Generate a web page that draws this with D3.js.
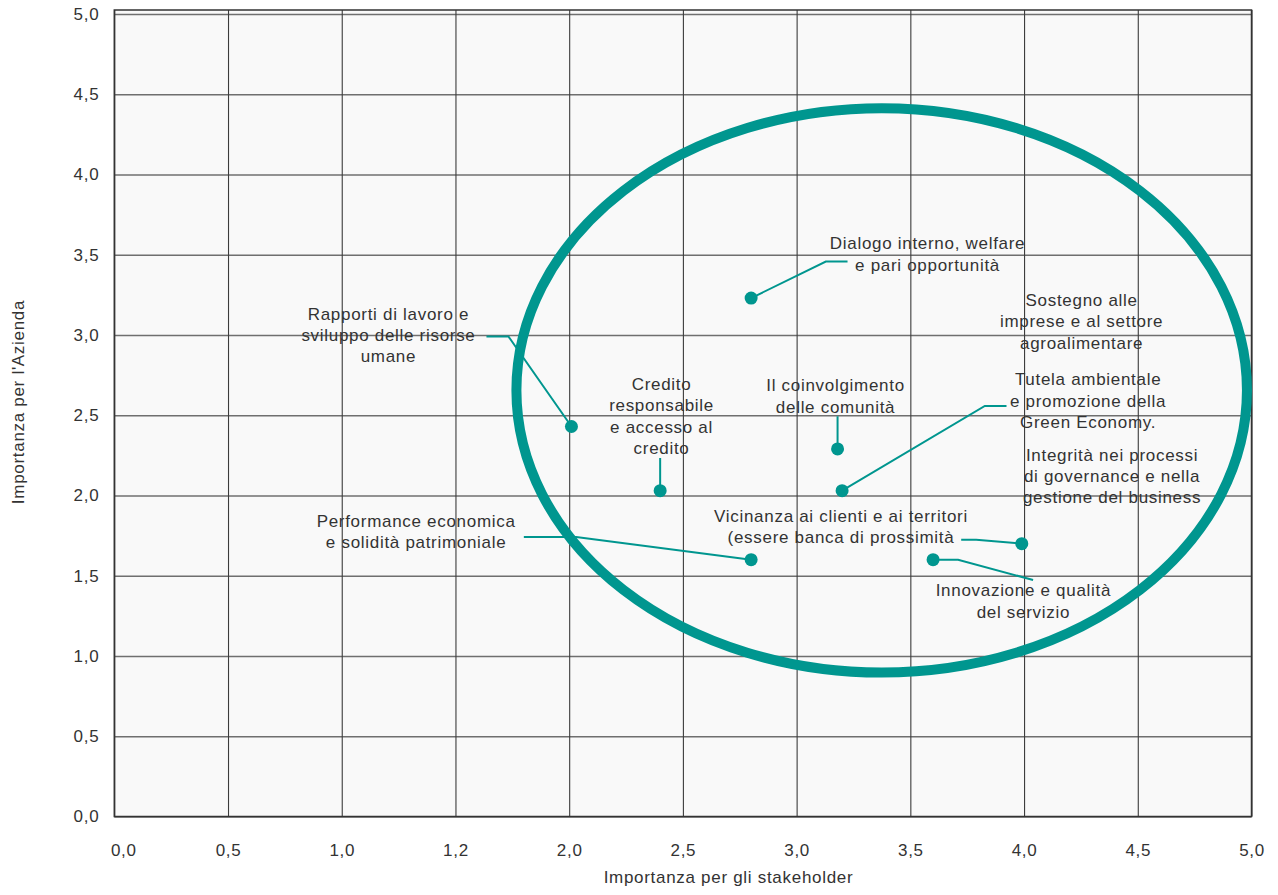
<!DOCTYPE html>
<html lang="it">
<head>
<meta charset="utf-8">
<title>Matrice di materialità</title>
<script src="https://cdn.jsdelivr.net/npm/d3@7"></script>
<style>
  html, body { margin: 0; padding: 0; background: #ffffff; }
  svg { display: block; }
  text { font-family: "Liberation Sans", Arial, Helvetica, sans-serif; fill: #333333; }
</style>
</head>
<body>
<svg id="chart" width="1278" height="895"></svg>
<script>
// Temi materiali: nome, importanza per gli stakeholder (x), importanza per l'azienda (y)
const topics = [
  "Dialogo interno, welfare e pari opportunità",
  "Rapporti di lavoro e sviluppo delle risorse umane",
  "Credito responsabile e accesso al credito",
  "Il coinvolgimento delle comunità",
  "Tutela ambientale e promozione della Green Economy.",
  "Performance economica e solidità patrimoniale",
  "Vicinanza ai clienti e ai territori (essere banca di prossimità",
  "Innovazione e qualità del servizio"
];
const stakeholderScores = [2.8, 2.01, 2.4, 3.18, 3.2, 2.8, 3.99, 3.6];
const companyScores     = [3.23, 2.43, 2.03, 2.29, 2.03, 1.6, 1.7, 1.6];

// Righe di testo delle etichette
const topicLines = [
  ["Dialogo interno, welfare", "e pari opportunità"],
  ["Rapporti di lavoro e", "sviluppo delle risorse", "umane"],
  ["Credito", "responsabile", "e accesso al", "credito"],
  ["Il coinvolgimento", "delle comunità"],
  ["Tutela ambientale", "e promozione della", "Green Economy."],
  ["Performance economica", "e solidità patrimoniale"],
  ["Vicinanza ai clienti e ai territori", "(essere banca di prossimità"],
  ["Innovazione e qualità", "del servizio"]
];

// Etichette senza punto associato, posizionate nello spazio dei dati
const freeLabels = [
  { lines: ["Sostegno alle", "imprese e al settore", "agroalimentare"], x: 4.253, y: 3.214 },
  { lines: ["Integrità nei processi", "di governance e nella", "gestione del business"], x: 4.387, y: 2.25 }
];

// Assi
const xTickValues = [0, 0.5, 1, 1.5, 2, 2.5, 3, 3.5, 4, 4.5, 5];
const xTickLabels = ["0,0", "0,5", "1,0", "1,2", "2,0", "2,5", "3,0", "3,5", "4,0", "4,5", "5,0"];
const yTickValues = [0, 0.5, 1, 1.5, 2, 2.5, 3, 3.5, 4, 4.5, 5];
const yTickLabels = ["0,0", "0,5", "1,0", "1,5", "2,0", "2,5", "3,0", "3,5", "4,0", "4,5", "5,0"];
const xTitle = "Importanza per gli stakeholder";
const yTitle = "Importanza per l'Azienda";

// Area di rilevanza (ellisse) in unità dei dati
const focusArea = { cx: 3.374, cy: 2.655, rx: 1.606, ry: 1.758 };

// ---- layout ----
const TEAL = "#00968f";
const plot = { left: 114.3, right: 1251.5, top: 14, bottom: 816.5 };
const lineH = 21.3;

// Posizione etichette e linee guida, in pixel relative al punto
const labelLayout = [
  { dx: 176.4, dy: -54.3, leader: [[74.7, -36.6], [96.4, -36.6]] },
  { dx: -183, dy: -112.2, leader: [[-63, -90], [-85, -90]] },
  { dx: 1.4, dy: -106, leader: [[0, -32.7]] },
  { dx: -2, dy: -63, leader: [[0, -32.7]] },
  { dx: 246, dy: -110.7, leader: [[142.7, -84.7], [164.4, -84.7]] },
  { dx: -335, dy: -38.3, leader: [[-175, -22.7], [-227.3, -22.7]] },
  { dx: -180.8, dy: -27.3, leader: [[-45.6, -4], [-60.6, -4]] },
  { dx: 90.3, dy: 31, leader: [[25, 0], [100, 20.3]] }
];

const svg = d3.select("#chart");

const x = d3.scaleLinear().domain([0, 5]).range([plot.left, plot.right]);
const y = d3.scaleLinear().domain([0, 5]).range([plot.bottom, plot.top]);

const fontSize = 17;
const spacing = "0.7px";

// Sfondo dell'area del grafico
svg.append("rect")
  .attr("x", plot.left).attr("y", plot.top - 4)
  .attr("width", plot.right - plot.left)
  .attr("height", plot.bottom - plot.top + 4)
  .attr("fill", "#f9f9f9");

// Griglia orizzontale + etichette asse Y
const yAxis = d3.axisLeft(y)
  .tickValues(yTickValues)
  .tickSize(-(plot.right - plot.left))
  .tickPadding(15)
  .tickFormat((d, i) => yTickLabels[i]);

const gy = svg.append("g")
  .attr("transform", `translate(${plot.left},0)`)
  .call(yAxis);
gy.select(".domain").remove();
gy.selectAll(".tick line").attr("stroke", "#6f6f6f").attr("stroke-width", 1.5);
gy.selectAll(".tick text")
  .attr("font-size", fontSize).style("letter-spacing", spacing)
  .attr("fill", "#333").style("font-family", "'Liberation Sans', Arial, sans-serif");

// Griglia verticale + etichette asse X
const xAxis = d3.axisBottom(x)
  .tickValues(xTickValues)
  .tickSize(-(plot.bottom - plot.top + 4))
  .tickPadding(27)
  .tickFormat((d, i) => xTickLabels[i]);

const gx = svg.append("g")
  .attr("transform", `translate(0,${plot.bottom})`)
  .call(xAxis);
gx.select(".domain").remove();
gx.selectAll(".tick line").attr("stroke", "#3c3c3c").attr("stroke-width", 1.1);
gx.selectAll(".tick text")
  .attr("font-size", fontSize).style("letter-spacing", spacing)
  .attr("fill", "#333").style("font-family", "'Liberation Sans', Arial, sans-serif");
gx.selectAll(".tick text").filter((d, i) => i === 0).attr("dx", 9);

// Cornice
svg.append("rect")
  .attr("x", plot.left).attr("y", plot.top - 4)
  .attr("width", plot.right - plot.left)
  .attr("height", plot.bottom - plot.top + 4)
  .attr("fill", "none")
  .attr("stroke", "#333")
  .attr("stroke-width", 1.5);

// Titoli degli assi
svg.append("text")
  .attr("x", 728.5).attr("y", 877)
  .attr("text-anchor", "middle")
  .attr("dominant-baseline", "central")
  .attr("font-size", fontSize).style("letter-spacing", spacing)
  .text(xTitle);

svg.append("text")
  .attr("transform", "translate(18,402) rotate(-90)")
  .attr("text-anchor", "middle")
  .attr("dominant-baseline", "central")
  .attr("font-size", fontSize).style("letter-spacing", spacing)
  .text(yTitle);

// Ellisse dell'area di rilevanza
svg.append("ellipse")
  .attr("cx", x(focusArea.cx))
  .attr("cy", y(focusArea.cy))
  .attr("rx", x(focusArea.rx) - x(0))
  .attr("ry", y(0) - y(focusArea.ry))
  .attr("fill", "none")
  .attr("stroke", TEAL)
  .attr("stroke-width", 10);

// Etichette multi-riga
function drawLabel(g, lines, cx, cy) {
  const t = g.append("text")
    .attr("text-anchor", "middle")
    .attr("font-size", fontSize)
    .style("letter-spacing", spacing);
  lines.forEach((ln, i) => {
    t.append("tspan")
      .attr("x", cx)
      .attr("y", cy + i * lineH)
      .attr("dominant-baseline", "central")
      .text(ln);
  });
}

const points = topics.map((name, i) => ({
  name,
  sx: stakeholderScores[i],
  sy: companyScores[i],
  lines: topicLines[i],
  layout: labelLayout[i]
}));

const labelsG = svg.append("g");
const leadersG = svg.append("g");
const dotsG = svg.append("g");

points.forEach(p => {
  const px = x(p.sx), py = y(p.sy);
  const path = [[px, py]].concat(p.layout.leader.map(([dx, dy]) => [px + dx, py + dy]));
  leadersG.append("path")
    .attr("d", d3.line()(path))
    .attr("fill", "none")
    .attr("stroke", TEAL)
    .attr("stroke-width", 2);
  drawLabel(labelsG, p.lines, px + p.layout.dx, py + p.layout.dy);
});

dotsG.selectAll("circle")
  .data(points)
  .join("circle")
  .attr("cx", d => x(d.sx))
  .attr("cy", d => y(d.sy))
  .attr("r", 6.5)
  .attr("fill", TEAL);

freeLabels.forEach(f => drawLabel(labelsG, f.lines, x(f.x), y(f.y)));
</script>
</body>
</html>
